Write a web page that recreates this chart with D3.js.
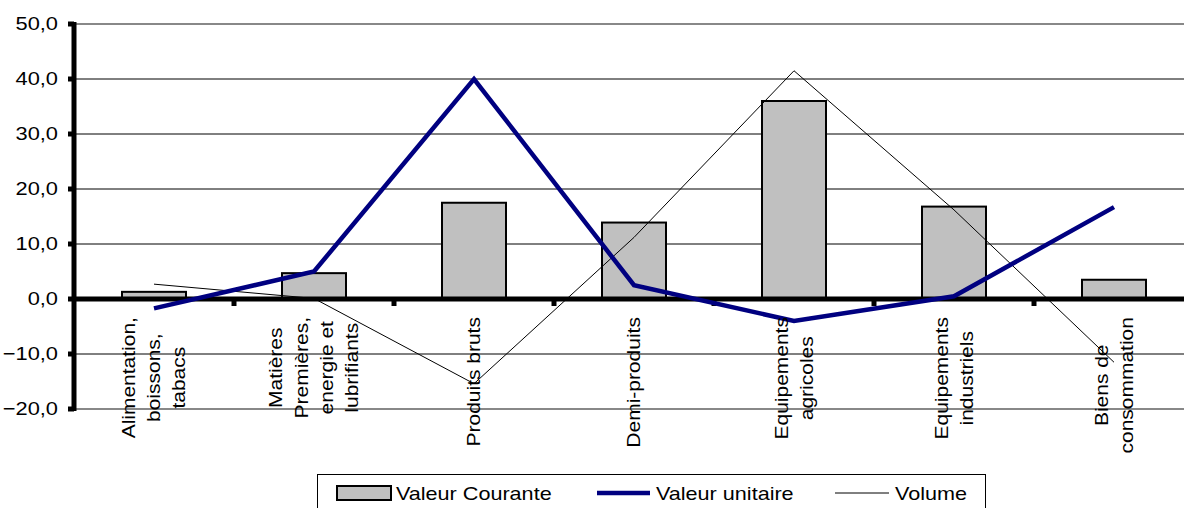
<!DOCTYPE html>
<html>
<head>
<meta charset="utf-8">
<script src="https://cdn.jsdelivr.net/npm/d3@7"></script>
<style>
  html, body { margin: 0; padding: 0; background: #fff; }
  svg { display: block; }
  text { font-family: "Liberation Sans", Arial, sans-serif; fill: #000; }
</style>
</head>
<body>
<svg id="chart" width="1184" height="508"></svg>
<script>
// categories, label lines as they wrap under the axis
const categories = ['alim', 'matieres', 'bruts', 'demi', 'agri', 'indus', 'biens'];
const categoryLabels = [
  ['Alimentation,', 'boissons,', 'tabacs'],
  ['Matières', 'Premières,', 'energie et', 'lubrifiants'],
  ['Produits bruts'],
  ['Demi-produits'],
  ['Equipements', 'agricoles'],
  ['Equipements', 'industriels'],
  ['Biens de', 'consommation']
];

const valeurCourante = [1.3, 4.7, 17.5, 13.9, 36.0, 16.8, 3.5];
const valeurUnitaire = [-1.7, 5.0, 40.0, 2.5, -4.0, 0.5, 16.7];
const volume = [2.7, 0.1, -15.4, 11.2, 41.5, 16.2, -11.5];

const yTicks = [-20, -10, 0, 10, 20, 30, 40, 50];
const legendLabels = ['Valeur Courante', 'Valeur unitaire', 'Volume'];

const fmt = d => d3.format('.1f')(d).replace('.', ',');
const SX = 1.18;   // horizontal text stretch seen in the picture
const SXL = 0.84;  // rotated labels are narrow across

const svg = d3.select('#chart');
const plot = { left: 74, right: 1194, top: 24, bottom: 409 };

const x = d3.scaleBand().domain(categories).range([plot.left, plot.right]).padding(0);
const y = d3.scaleLinear().domain([-20, 50]).range([plot.bottom, plot.top]);
const cx = c => x(c) + x.bandwidth() / 2;

// gridlines
svg.append('g').selectAll('line')
  .data(yTicks.filter(t => t !== 0))
  .join('line')
  .attr('x1', plot.left).attr('x2', plot.right)
  .attr('y1', d => y(d)).attr('y2', d => y(d))
  .attr('stroke', d => (d === 50 || d === -20) ? '#888' : '#000')
  .attr('stroke-width', d => (d === 50 || d === -20) ? 2 : 1);

// bars
svg.append('g').selectAll('rect')
  .data(valeurCourante)
  .join('rect')
  .attr('x', (d, i) => cx(categories[i]) - 32)
  .attr('width', 64)
  .attr('y', d => y(Math.max(0, d)))
  .attr('height', d => Math.abs(y(d) - y(0)))
  .attr('fill', '#c0c0c0')
  .attr('stroke', '#000')
  .attr('stroke-width', 2);

// zero axis and ticks between categories
svg.append('line')
  .attr('x1', plot.left).attr('x2', plot.right)
  .attr('y1', y(0)).attr('y2', y(0))
  .attr('stroke', '#000').attr('stroke-width', 5);
svg.append('g').selectAll('line')
  .data(categories.slice(1))
  .join('line')
  .attr('x1', d => x(d)).attr('x2', d => x(d))
  .attr('y1', y(0)).attr('y2', y(0) + 7)
  .attr('stroke', '#000').attr('stroke-width', 5);

// y axis
svg.append('line')
  .attr('x1', plot.left).attr('x2', plot.left)
  .attr('y1', plot.top - 2).attr('y2', plot.bottom + 2)
  .attr('stroke', '#000').attr('stroke-width', 5);
svg.append('g').selectAll('line')
  .data(yTicks)
  .join('line')
  .attr('x1', plot.left - 6).attr('x2', plot.left)
  .attr('y1', d => y(d)).attr('y2', d => y(d))
  .attr('stroke', '#000').attr('stroke-width', 5);
svg.append('g').selectAll('text')
  .data(yTicks)
  .join('text')
  .attr('transform', d => `translate(58,${y(d)}) scale(${SX},1)`)
  .attr('dy', '0.35em')
  .attr('text-anchor', 'end')
  .style('font-size', '18.5px')
  .text(fmt);

// lines
const line = d3.line().x((d, i) => cx(categories[i])).y(d => y(d));
svg.append('path')
  .datum(volume)
  .attr('d', line)
  .attr('fill', 'none')
  .attr('stroke', '#000')
  .attr('stroke-width', 1);
svg.append('path')
  .datum(valeurUnitaire)
  .attr('d', line)
  .attr('fill', 'none')
  .attr('stroke', '#000080')
  .attr('stroke-width', 4.5)
  .attr('stroke-linejoin', 'miter');

// category labels, rotated, top aligned under the axis, lines centered
const labelTop = 317;
const lineStep = 30;
categoryLabels.forEach((lines, i) => {
  const g = svg.append('g');
  const texts = g.selectAll('text')
    .data(lines)
    .join('text')
    .attr('text-anchor', 'middle')
    .style('font-size', '21px')
    .attr('x', 0)
    .attr('y', (d, j) => (j - (lines.length - 1) / 2) * lineStep)
    .attr('dy', '0.35em')
    .text(d => d);
  const maxLen = d3.max(texts.nodes(), n => n.getComputedTextLength());
  g.attr('transform', `translate(${cx(categories[i])},${labelTop + maxLen / 2}) scale(${SXL},1) rotate(-90)`);
});

// legend
const legend = svg.append('g');
legend.append('rect')
  .attr('x', 317.5).attr('y', 474.5)
  .attr('width', 668).attr('height', 60)
  .attr('fill', '#fff').attr('stroke', '#000').attr('stroke-width', 1);
legend.append('rect')
  .attr('x', 337).attr('y', 486).attr('width', 54).attr('height', 14)
  .attr('fill', '#c0c0c0').attr('stroke', '#000').attr('stroke-width', 2);
legend.append('line')
  .attr('x1', 597).attr('x2', 650).attr('y1', 493).attr('y2', 493)
  .attr('stroke', '#000080').attr('stroke-width', 4.5);
legend.append('line')
  .attr('x1', 835).attr('x2', 889).attr('y1', 493).attr('y2', 493)
  .attr('stroke', '#000').attr('stroke-width', 1);
const legendX = [396, 656, 895];
legend.selectAll('text')
  .data(legendLabels)
  .join('text')
  .attr('transform', (d, i) => `translate(${legendX[i]},500) scale(1.2,1)`)
  .style('font-size', '18px')
  .text(d => d);
</script>
</body>
</html>
